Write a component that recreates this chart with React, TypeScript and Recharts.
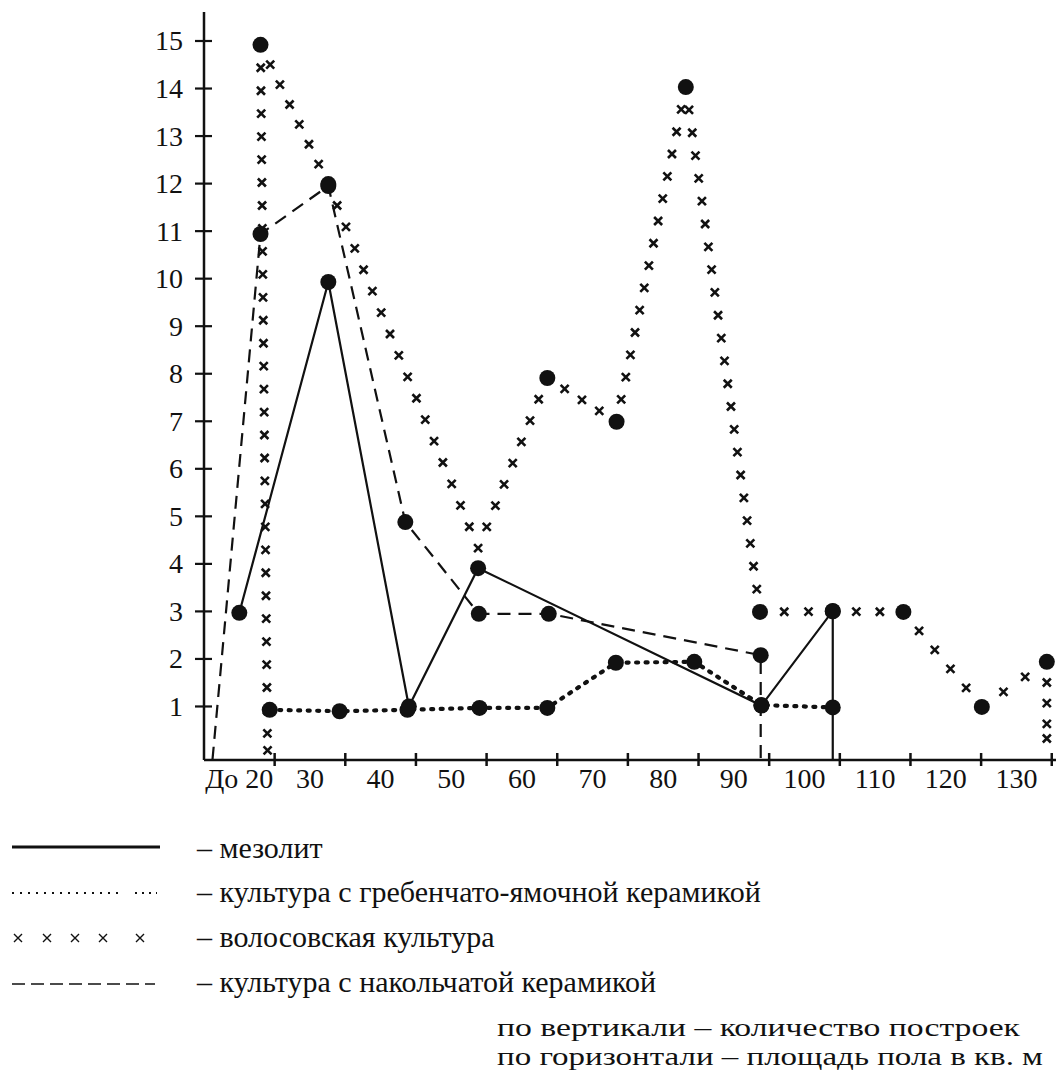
import React from 'react';
import { ComposedChart, Line, Scatter, XAxis, YAxis } from 'recharts';

// ---- axis ticks / labels ----
const xTickValues = [20, 30, 40, 50, 60, 70, 80, 90, 100, 110, 120, 130];
const xLabelValues = [15, 25, 35, 45, 55, 65, 75, 85, 95, 105, 115, 125];
const xLabelTexts = ['До 20', '30', '40', '50', '60', '70', '80', '90', '100', '110', '120', '130'];
const yTickValues = [1, 2, 3, 4, 5, 6, 7, 8, 9, 10, 11, 12, 13, 14, 15];

// ---- series names / notes ----
const seriesNames = [
  'мезолит',
  'культура с гребенчато-ямочной керамикой',
  'волосовская культура',
  'культура с накольчатой керамикой',
];
const axisNotes = ['по вертикали – количество построек', 'по горизонтали – площадь пола в кв. м'];

// ---- data (x = площадь, y = количество построек) ----
const mesolithX = [15.0, 27.6, 39.0, 48.8, 88.9, 99.0, 99.0];
const mesolithY = [2.97, 9.93, 1.0, 3.91, 1.02, 3.01, -0.12];
const mesolithMarked = [true, true, true, true, true, true, false];

const combX = [19.3, 29.2, 38.8, 49.0, 58.6, 68.3, 79.4, 88.9, 99.0];
const combY = [0.93, 0.9, 0.93, 0.97, 0.97, 1.92, 1.94, 1.03, 0.98];
const combMarked = [true, true, true, true, true, true, true, true, true];

const volosovoX = [19.0, 18.0, 27.6, 48.8, 58.6, 68.4, 78.2, 88.7, 99.0, 109.0, 120.1, 129.3, 129.3];
const volosovoY = [-0.05, 14.92, 11.99, 4.33, 7.91, 6.99, 14.03, 2.99, 3.0, 2.99, 0.99, 1.94, 0.2];
const volosovoMarked = [false, true, true, false, true, true, true, true, true, true, true, true, false];

const pinX = [11.2, 18.0, 27.6, 38.5, 48.9, 58.8, 88.8, 88.8];
const pinY = [-0.12, 10.94, 11.95, 4.88, 2.95, 2.95, 2.08, -0.12];
const pinMarked = [false, true, true, true, true, true, true, false];

const build = (xs: number[], ys: number[], marks: boolean[]) =>
  xs.map((x, i) => ({ x, y: ys[i], marked: marks[i] }));

const mesolithData = build(mesolithX, mesolithY, mesolithMarked);
const combData = build(combX, combY, combMarked);
const volosovoData = build(volosovoX, volosovoY, volosovoMarked);
const pinData = build(pinX, pinY, pinMarked);

const FONT = "'Liberation Serif', 'Times New Roman', serif";
const INK = '#111';

const BigDot = (p: any) => {
  if (!p || !p.payload || !p.payload.marked || p.cx == null || p.cy == null) {
    return <g key={`e-${p?.index}`} />;
  }
  return <circle key={`d-${p.index}`} cx={p.cx} cy={p.cy} r={8} fill={INK} stroke="none" />;
};

const XMark = ({ x, y }: { x: number; y: number }) => (
  <path
    d={`M${x - 4},${y - 4}L${x + 4},${y + 4}M${x + 4},${y - 4}L${x - 4},${y + 4}`}
    stroke={INK}
    strokeWidth={2.6}
    fill="none"
  />
);

const VolosovoMarks = (props: any) => {
  const pts: { x: number; y: number }[] = props.points || [];
  const marks: [number, number][] = [];
  const step = 23;
  for (let i = 0; i < pts.length; i++) {
    const a = pts[i];
    if (!volosovoMarked[i]) marks.push([a.x, a.y - (i === 0 || i === pts.length - 1 ? 6 : 0)]);
    if (i === pts.length - 1) break;
    const b = pts[i + 1];
    const dx = b.x - a.x;
    const dy = b.y - a.y;
    const len = Math.hypot(dx, dy);
    const n = Math.max(1, Math.round(len / step));
    for (let k = 1; k < n; k++) {
      marks.push([a.x + (dx * k) / n, a.y + (dy * k) / n]);
    }
  }
  return (
    <g>
      {marks.map(([x, y], k) => (
        <XMark key={k} x={x} y={y} />
      ))}
    </g>
  );
};

const XTick = (props: any) => {
  const { x, y, payload } = props;
  const v = payload.value;
  const li = xLabelValues.indexOf(v);
  if (li >= 0) {
    return (
      <text x={x} y={y + 28} textAnchor="middle" fontFamily={FONT} fontSize={28} fill={INK}>
        {xLabelTexts[li]}
      </text>
    );
  }
  return <line x1={x} x2={x} y1={y - 7} y2={y + 6} stroke={INK} strokeWidth={2.5} />;
};

const YTick = (props: any) => {
  const { x, y, payload } = props;
  return (
    <g>
      <line x1={x - 9} x2={x + 8} y1={y} y2={y} stroke={INK} strokeWidth={2.2} />
      <text x={x - 21} y={y + 9.5} textAnchor="end" fontFamily={FONT} fontSize={28} fill={INK}>
        {payload.value}
      </text>
    </g>
  );
};

const legendText = [858, 902, 947, 992];
const legendSym = [847, 893, 938, 984];
const noteWidths = [523, 546];

const LegendSymbol = ({ i, y }: { i: number; y: number }) => {
  if (i === 0) return <line x1={12} x2={160} y1={y} y2={y} stroke={INK} strokeWidth={3} />;
  if (i === 1)
    return (
      <g>
        <line x1={12} x2={122} y1={y} y2={y} stroke={INK} strokeWidth={2} strokeDasharray="2 6" />
        <line x1={135} x2={157} y1={y} y2={y} stroke={INK} strokeWidth={2} strokeDasharray="2 5" />
      </g>
    );
  if (i === 2)
    return (
      <g>
        {[18, 47, 75, 103, 140].map((cx) => (
          <path
            key={cx}
            d={`M${cx - 4},${y - 4}L${cx + 4},${y + 4}M${cx + 4},${y - 4}L${cx - 4},${y + 4}`}
            stroke={INK}
            strokeWidth={1.4}
          />
        ))}
      </g>
    );
  return (
    <line x1={12} x2={155} y1={y} y2={y} stroke={INK} strokeWidth={1.6} strokeDasharray="13 6" />
  );
};

export default function App() {
  return (
    <div
      style={{
        position: 'absolute',
        left: 0,
        top: 0,
        width: 1056,
        height: 1073,
        background: '#fff',
        overflow: 'hidden',
      }}
    >
      <ComposedChart width={1056} height={800} margin={{ top: 12, right: 0, bottom: 0, left: 0 }}>
        <XAxis
          dataKey="x"
          type="number"
          domain={[10, 130.6]}
          allowDataOverflow
          ticks={[...xTickValues, ...xLabelValues].sort((a, b) => a - b)}
          interval={0}
          tick={<XTick />}
          tickLine={false}
          tickSize={0}
          tickMargin={0}
          height={40}
          axisLine={{ stroke: INK, strokeWidth: 2.5 }}
        />
        <YAxis
          dataKey="y"
          type="number"
          domain={[-0.126, 15.61]}
          allowDataOverflow
          ticks={yTickValues}
          interval={0}
          tick={<YTick />}
          tickLine={false}
          tickSize={0}
          tickMargin={0}
          width={204}
          axisLine={{ stroke: INK, strokeWidth: 2.5 }}
        />
        <Line
          data={pinData}
          dataKey="y"
          name={seriesNames[3]}
          type="linear"
          stroke={INK}
          strokeWidth={2.2}
          strokeDasharray="13 8"
          dot={BigDot}
          activeDot={false}
          isAnimationActive={false}
        />
        <Line
          data={combData}
          dataKey="y"
          name={seriesNames[1]}
          type="linear"
          stroke={INK}
          strokeWidth={4.2}
          strokeDasharray="2 7.5"
          strokeLinecap="round"
          dot={BigDot}
          activeDot={false}
          isAnimationActive={false}
        />
        <Line
          data={mesolithData}
          dataKey="y"
          name={seriesNames[0]}
          type="linear"
          stroke={INK}
          strokeWidth={2.2}
          dot={BigDot}
          activeDot={false}
          isAnimationActive={false}
        />
        <Scatter
          data={volosovoData}
          dataKey="y"
          name={seriesNames[2]}
          fill={INK}
          shape={BigDot}
          line={VolosovoMarks}
          lineJointType="linear"
          isAnimationActive={false}
        />
      </ComposedChart>
      <svg
        width={1056}
        height={1073}
        style={{ position: 'absolute', left: 0, top: 0, pointerEvents: 'none' }}
      >
        {seriesNames.map((name, i) => (
          <g key={name}>
            <LegendSymbol i={i} y={legendSym[i]} />
            <text x={197} y={legendText[i]} fontFamily={FONT} fontSize={30} fill={INK}>
              {'– ' + name}
            </text>
          </g>
        ))}
        {axisNotes.map((t, i) => (
          <text
            key={t}
            x={497}
            y={1036 + i * 29}
            fontFamily={FONT}
            fontSize={26}
            fill={INK}
            textLength={noteWidths[i]}
            lengthAdjust="spacingAndGlyphs"
          >
            {t}
          </text>
        ))}
      </svg>
    </div>
  );
}
